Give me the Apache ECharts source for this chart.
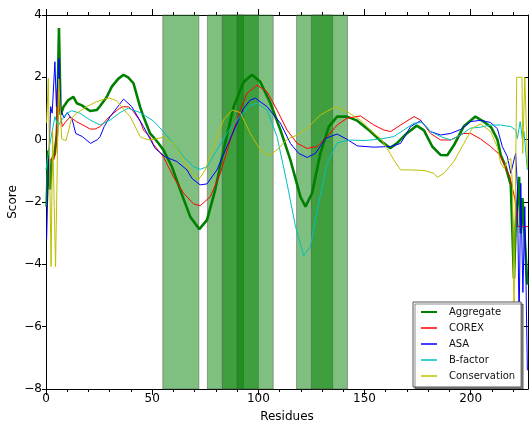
<!DOCTYPE html>
<html>
<head>
<meta charset="utf-8">
<script src="https://cdn.jsdelivr.net/npm/echarts@6/dist/echarts.min.js"></script>
<style>
html,body{margin:0;padding:0;background:#fff;}
#chart{width:530px;height:426px;}
</style>
</head>
<body>
<div id="chart"></div>
<script>
// ---- data (residue, score) ----
const aggregate = [[0.3,-2.15],[1,-0.35],[1.9,-1.6],[2.7,-0.65],[4,-0.45],[5.2,0.2],[6.1,3.58],[6.9,0.8],[8.2,1.05],[10.5,1.27],[12.9,1.37],[14.5,1.17],[16.9,1.1],[19,1.0],[20.8,0.92],[23.9,0.95],[25.5,1.08],[28.6,1.37],[31,1.7],[34,1.95],[36.5,2.08],[38.7,2.0],[41.2,1.81],[44.3,1.05],[45.9,0.74],[49,0.2],[50.6,0.08],[52.8,-0.1],[55.3,-0.33],[59.3,-0.87],[63.2,-1.61],[67.9,-2.47],[72.2,-2.87],[75.8,-2.58],[79.7,-1.61],[83.6,-0.33],[88.4,1.06],[91.5,1.59],[93.1,1.85],[97,2.08],[100.9,1.86],[105.7,1.17],[110.4,0.31],[115.1,-0.65],[119.8,-1.83],[122.2,-2.15],[125.3,-1.72],[129.2,-0.44],[133.2,0.42],[137.1,0.74],[141.8,0.74],[146.6,0.61],[152.6,0.28],[157.4,-0.03],[162.1,-0.27],[165.2,-0.12],[169.9,0.2],[174.6,0.45],[178,0.3],[181.9,-0.22],[185.8,-0.49],[189,-0.5],[192.1,-0.18],[196.7,0.42],[202.2,0.74],[206.5,0.56],[209.6,0.4],[212.6,0.0],[214.2,-0.5],[216.5,-0.87],[218.9,-1.45],[220.4,-4.45],[221.2,-2.8],[222.8,-1.19],[223.6,-3.0],[224.4,-1.87],[225.3,-1.87],[226.7,-4.65]];
const corex = [[0,-0.65],[3.6,-0.65],[4.6,-0.43],[5.3,1.6],[6.3,1.0],[7.7,0.42],[9,0.55],[11.3,0.73],[14.5,0.57],[17.4,0.47],[20.8,0.34],[23.1,0.34],[25.5,0.42],[30.2,0.76],[34.5,1.0],[36.5,1.06],[39,1.05],[41.2,0.9],[44.3,0.6],[45.9,0.31],[49,0.09],[50.6,-0.15],[55.3,-0.55],[60,-1.19],[64.8,-1.72],[69.5,-2.06],[72.6,-2.12],[77.4,-1.83],[82.1,-1.08],[86.8,-0.01],[91.5,0.95],[94.7,1.49],[99.4,1.75],[104.1,1.54],[108.8,0.95],[113.5,0.31],[118.3,-0.12],[123,-0.28],[127.7,-0.22],[132.4,0.1],[137.1,0.47],[141.8,0.69],[148.1,0.76],[154.4,0.47],[159.1,0.31],[162.3,0.26],[167,0.47],[173.3,0.74],[176.4,0.63],[181.1,0.2],[185.8,-0.01],[190.6,-0.01],[196.8,0.2],[200,0.2],[204.7,0.02],[209.4,-0.22],[213.8,-0.49],[218.5,-1.19],[220.9,-1.93],[221.7,-2.47],[222.2,-2.79],[227,-2.79]];
const asa = [[0.3,-3.2],[1,-1.19],[2.2,1.06],[2.9,0.85],[4.2,2.5],[4.9,1.06],[6.1,2.61],[6.9,0.95],[8.5,0.7],[10,0.87],[12.4,0.63],[14,0.2],[17.1,0.1],[21,-0.12],[24.2,0.0],[25.5,0.1],[27.4,0.42],[30.2,0.74],[36.5,1.3],[40.4,1.06],[45.9,0.42],[51.4,-0.28],[56.1,-0.55],[61.6,-0.7],[66.4,-0.97],[68.7,-1.24],[72.6,-1.45],[75.8,-1.42],[80.5,-0.97],[85.2,-0.22],[90,0.53],[93,1.0],[96.2,1.27],[98.6,1.33],[104.1,1.06],[110.4,0.53],[115.1,-0.12],[119,-0.44],[123,-0.57],[126.9,-0.44],[131.6,0.04],[137.1,0.18],[141.8,0.01],[146.6,-0.2],[154.4,-0.24],[162.3,-0.22],[167,-0.12],[171.7,0.42],[176.4,0.61],[181.1,0.26],[185.8,0.15],[190.6,0.2],[195.3,0.33],[200,0.58],[204.7,0.62],[209.4,0.55],[212.6,0.35],[214.9,-0.22],[217.3,-0.55],[218.9,-1.08],[220.4,-0.65],[221.2,-0.44],[222,-1.5],[222.8,-5.9],[223.6,-1.4],[224.6,-4.9],[225.5,-2.15],[226.7,-7.4]];
const bfactor = [[0,-0.97],[1.4,-0.3],[3,0.3],[4.2,0.74],[5.6,0.42],[7.4,0.63],[9.8,0.85],[12.1,0.93],[16,0.85],[20.8,0.63],[25.5,0.47],[30.2,0.63],[34.9,0.87],[38.8,1.01],[44.3,0.87],[50.6,0.6],[55.3,0.26],[60,-0.12],[64.8,-0.55],[69.5,-0.87],[72.6,-0.95],[75.8,-0.87],[80.5,-0.33],[85.2,0.2],[90,0.63],[94,0.95],[96.2,1.1],[99.4,1.17],[104.1,0.95],[108.8,0.1],[113.5,-1.4],[117.5,-2.79],[121.4,-3.72],[124.5,-3.43],[127.7,-2.26],[132.4,-0.76],[137.1,-0.1],[143.4,-0.01],[149.7,-0.03],[157.5,0.02],[163.8,0.1],[168.5,0.31],[173.3,0.53],[177.2,0.55],[181.1,0.26],[185.8,0.1],[190.6,-0.01],[195.3,0.15],[200,0.37],[204.7,0.4],[209.4,0.47],[214,0.47],[218.9,0.42],[221.2,0.31],[222,0.04],[223.3,0.58],[224.4,0.0],[225.1,0.26],[226.7,-0.97]];
const conservation = [[0.3,0.53],[1.1,1.97],[1.6,1.97],[2.4,-4.07],[3.1,0.3],[4.5,-4.07],[6,1.95],[7.4,0.02],[9.4,-0.03],[10.5,0.25],[12.1,0.7],[14.5,0.85],[19.2,1.06],[23.9,1.22],[28.6,1.33],[30,1.33],[33.3,1.25],[34.9,1.11],[38.1,0.85],[39.6,0.74],[42.8,0.31],[44.3,0.1],[45.9,0.04],[49.1,-0.01],[51.4,0.02],[55.3,0.08],[60,-0.12],[64.8,-0.65],[68.7,-1.08],[71.8,-1.29],[75,-0.97],[78.9,-0.22],[83.6,0.63],[87.6,0.95],[91.5,0.87],[96.2,0.2],[100.9,-0.33],[104.9,-0.52],[108.8,-0.33],[113.5,0.01],[118.3,0.15],[123,0.37],[129.2,0.79],[136.3,1.06],[141.8,0.9],[148.1,0.63],[154.4,0.2],[157.5,0.04],[160.7,-0.28],[163.8,-0.65],[167,-0.97],[171.7,-0.97],[178,-0.99],[182.7,-1.08],[184.3,-1.21],[187.4,-1.08],[192.1,-0.7],[196.8,-0.12],[200.8,0.37],[204.7,0.5],[209.4,0.26],[212.6,-0.25],[214.2,-0.76],[215.7,-0.92],[217.3,-0.7],[218.9,-0.6],[219.7,-1.5],[220.4,-5.6],[221.7,2.0],[224.2,2.0],[224.5,-0.44],[225.5,2.0],[226.2,2.0],[226.8,-0.9]];
// shaded residue ranges
const spans = [[55,72],[76,93],[83,100],[90,107],[118,135],[125,142]];
// ticks
const xMajor = [0,50,100,150,200];
const xMinor = [10,20,30,40,60,70,80,90,110,120,130,140,160,170,180,190,210,220];
const yTicks = [-8,-6,-4,-2,0,2,4];

const FONT = 'DejaVu Sans';
const chart = echarts.init(document.getElementById('chart'), null, {renderer:'canvas'});

function xAx(pos, major, withLabel) {
  return {
    type:'value', position:pos, min:0, max:227, interval: major?50:10,
    axisLine:{show:major, onZero:false, lineStyle:{color:'#000', width:1}},
    axisTick:{show:true, inside:false, length: major?6:3, customValues: major?xMajor:xMinor, lineStyle:{color:'#000'}},
    axisLabel:{show:withLabel, customValues:xMajor, color:'#000', fontSize:12, fontFamily:FONT, margin:4},
    splitLine:{show:false},
    name: withLabel ? 'Residues' : '', nameLocation:'middle', nameGap:22, nameMoveOverlap:false,
    nameTextStyle:{color:'#000', fontSize:12, fontFamily:FONT}
  };
}

const colors = {Aggregate:'#008000', COREX:'#ff0000', ASA:'#0000ff', 'B-factor':'#00bfbf', Conservation:'#bfbf00'};
function lineSeries(name, data, width) {
  return {
    name, type:'line', data, symbol:'none', showSymbol:false, smooth:false,
    xAxisIndex:0, yAxisIndex:0,
    lineStyle:{color:colors[name], width}, itemStyle:{color:colors[name]},
    emphasis:{disabled:true}, animation:false, clip:true
  };
}

const aggSeries = lineSeries('Aggregate', aggregate, 2.6);
aggSeries.markArea = {
  silent:true,
  itemStyle:{color:'rgba(0,128,0,0.5)', borderColor:'rgba(70,70,70,0.45)', borderWidth:1},
  data: spans.map(s => [{xAxis:s[0]},{xAxis:s[1]}])
};

const hiddenSym = {color:'rgba(0,0,0,0)', borderWidth:0, opacity:0};
chart.setOption({
  animation:false,
  backgroundColor:'#fff',
  grid:{left:46, right:2, top:15, bottom:37, containLabel:false, outerBoundsMode:'none'},
  xAxis:[xAx('bottom',true,true), xAx('bottom',false,false), xAx('top',true,false), xAx('top',false,false)],
  yAxis:[
    {type:'value', position:'left', min:-8, max:4, interval:2,
     axisLine:{show:true, onZero:false, lineStyle:{color:'#000', width:1}},
     axisTick:{show:true, inside:false, length:4, lineStyle:{color:'#000'}},
     axisLabel:{color:'#000', fontSize:12, fontFamily:FONT, margin:4,
       formatter: v => v < 0 ? '\u2212' + (-v) : String(v)},
     splitLine:{show:false},
     name:'Score', nameLocation:'middle', nameGap:27, nameMoveOverlap:false,
     nameTextStyle:{color:'#000', fontSize:12, fontFamily:FONT}},
    {type:'value', position:'right', min:-8, max:4, interval:2,
     axisLine:{show:true, onZero:false, lineStyle:{color:'#000', width:1}},
     axisTick:{show:true, inside:true, length:4, lineStyle:{color:'#000'}},
     axisLabel:{show:false}, splitLine:{show:false}}
  ],
  legend:{
    orient:'vertical', left:413, top:302,
    padding:[4,6,5,7], itemGap:4, itemWidth:16, itemHeight:10,
    backgroundColor:'#fff', borderColor:'#555', borderWidth:1, borderRadius:0,
    shadowColor:'rgba(0,0,0,0.45)', shadowOffsetX:2, shadowOffsetY:2, shadowBlur:0,
    textStyle:{color:'#111', fontSize:10, fontFamily:FONT, lineHeight:12, padding:[0,0,0,7]},
    itemStyle: hiddenSym,
    selectedMode:false,
    data:[
      {name:'Aggregate', itemStyle:hiddenSym},
      {name:'COREX', itemStyle:hiddenSym, lineStyle:{opacity:0.75}},
      {name:'ASA', itemStyle:hiddenSym, lineStyle:{opacity:0.75}},
      {name:'B-factor', itemStyle:hiddenSym, lineStyle:{opacity:0.75}},
      {name:'Conservation', itemStyle:hiddenSym, lineStyle:{opacity:0.75}}
    ]
  },
  series:[
    aggSeries,
    lineSeries('COREX', corex, 1),
    lineSeries('ASA', asa, 1),
    lineSeries('B-factor', bfactor, 1),
    lineSeries('Conservation', conservation, 1)
  ]
});
</script>
</body>
</html>
